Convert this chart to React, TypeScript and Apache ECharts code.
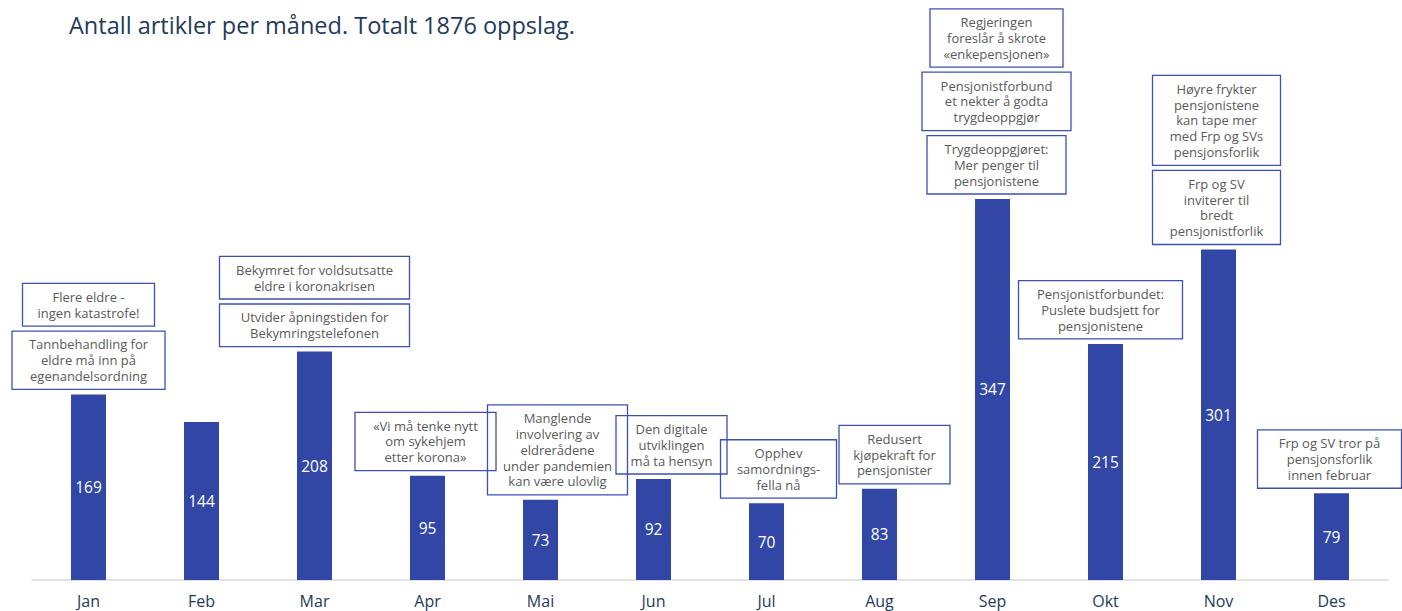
import React, { useEffect, useRef } from "react";
import * as echarts from "echarts";

const TITLE = "Antall artikler per måned. Totalt 1876 oppslag.";
const months = ["Jan", "Feb", "Mar", "Apr", "Mai", "Jun", "Jul", "Aug", "Sep", "Okt", "Nov", "Des"];
const counts = [169, 144, 208, 95, 73, 92, 70, 83, 347, 215, 301, 79];

// Annotations per month, listed from the bar upwards
const annotationMonths = ["Jan", "Jan", "Mar", "Mar", "Apr", "Mai", "Jun", "Jul", "Aug", "Sep", "Sep", "Sep", "Okt", "Nov", "Nov", "Des"];
const annotationTexts = [
  "Tannbehandling for\neldre må inn på\negenandelsordning",
  "Flere eldre -\ningen katastrofe!",
  "Utvider åpningstiden for\nBekymringstelefonen",
  "Bekymret for voldsutsatte\neldre i koronakrisen",
  "«Vi må tenke nytt\nom sykehjem\netter korona»",
  "Manglende\ninvolvering av\neldrerådene\nunder pandemien\nkan være ulovlig",
  "Den digitale\nutviklingen\nmå ta hensyn",
  "Opphev\nsamordnings-\nfella nå",
  "Redusert\nkjøpekraft for\npensjonister",
  "Trygdeoppgjøret:\nMer penger til\npensjonistene",
  "Pensjonistforbund\net nekter å godta\ntrygdeoppgjør",
  "Regjeringen\nforeslår å skrote\n«enkepensjonen»",
  "Pensjonistforbundet:\nPuslete budsjett for\npensjonistene",
  "Frp og SV\ninviterer til\nbredt\npensjonistforlik",
  "Høyre frykter\npensjonistene\nkan tape mer\nmed Frp og SVs\npensjonsforlik",
  "Frp og SV tror på\npensjonsforlik\ninnen februar",
];

// Layout of the annotation boxes (pixel styling, not data)
const boxWidths = [153, 132, 190, 190, 141, 140, 111, 116, 111, 139, 149, 133, 164, 128, 128, 144];
const boxOffsets = [0, 0, 0, 0, -2, 17, 18, 12, 15, 4, 4, 4, -5, -2, -2, -2];

const FONT = "'Open Sans', 'DejaVu Sans', sans-serif";
const BAR = "#3246a5";
const NAVY = "#1f3a5a";
const LINE_H = 15.8;
const GAP = 5;

export default function App() {
  const ref = useRef<HTMLDivElement>(null);
  useEffect(() => {
    if (!ref.current) return;
    const chart = echarts.init(ref.current, undefined, { renderer: "svg" });
    chart.setOption({
      animation: false,
      title: {
        text: TITLE,
        left: 64,
        top: 8,
        textStyle: { fontFamily: FONT, fontSize: 23.5, fontWeight: "normal", color: NAVY },
      },
      grid: { left: 32, right: 14, top: 31, bottom: 31 },
      xAxis: {
        type: "category",
        data: months,
        axisLine: { lineStyle: { color: "#d9d9d9", width: 1.5 } },
        axisTick: { show: false },
        axisLabel: { fontFamily: FONT, fontSize: 16, color: NAVY, margin: 13 },
      },
      yAxis: { type: "value", min: 0, max: 500, show: false, splitLine: { show: false } },
      series: [
        {
          type: "bar",
          data: counts,
          barWidth: 35,
          itemStyle: { color: BAR },
          label: {
            show: true,
            position: "inside",
            color: "#ffffff",
            fontFamily: FONT,
            fontSize: 15.5,
          },
        },
      ],
    });

    const stackTop: Record<string, number> = {};
    const graphics: any[] = [];
    annotationTexts.forEach((text, k) => {
      const m = annotationMonths[k];
      const idx = months.indexOf(m);
      const [cx, barTop] = chart.convertToPixel({ seriesIndex: 0 }, [idx, counts[idx]]) as number[];
      const lines = text.split("\n").length;
      const h = 11 + LINE_H * lines;
      const w = boxWidths[k];
      const base = stackTop[m] !== undefined ? stackTop[m] : barTop;
      const top = base - GAP - h;
      stackTop[m] = top;
      graphics.push({
        type: "group",
        x: cx + boxOffsets[k] - w / 2,
        y: top,
        children: [
          {
            type: "rect",
            shape: { x: 0, y: 0, width: w, height: h },
            style: { fill: "none", stroke: "#3d4fb5", lineWidth: 1.3 },
          },
          {
            type: "text",
            x: w / 2,
            y: h / 2,
            style: {
              text,
              align: "center",
              verticalAlign: "middle",
              fontFamily: FONT,
              fontSize: 13,
              lineHeight: LINE_H,
              fill: "#5a5a5a",
            },
          },
        ],
      });
    });
    chart.setOption({ graphic: graphics });

    return () => chart.dispose();
  }, []);
  return (
    <div
      ref={ref}
      style={{ position: "fixed", left: 0, top: 0, width: 1402, height: 611, background: "#fff" }}
    />
  );
}
